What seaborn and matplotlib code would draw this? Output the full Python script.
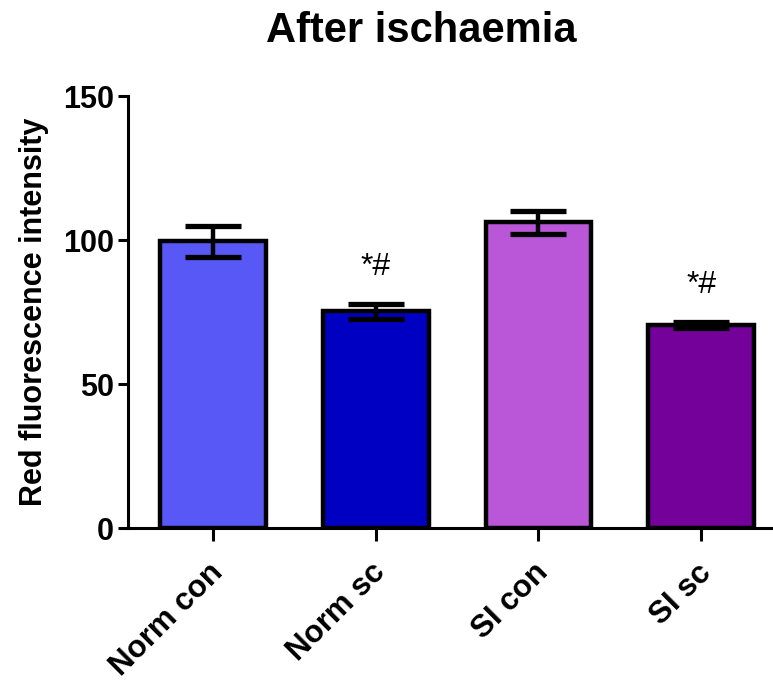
import matplotlib
matplotlib.use("Agg")
import matplotlib.pyplot as plt
import matplotlib.transforms as mtransforms
import seaborn as sns
import pandas as pd

categories = ["Norm con", "Norm sc", "SI con", "SI sc"]
means = [99.5, 75.3, 106.1, 70.5]
errors = [5.4, 2.6, 4.1, 1.2]
annotations = ["", "*#", "", "*#"]
colors = ["#5858F6", "#0000C2", "#B957D8", "#74019A"]
yticks = [0, 50, 100, 150]

sns.set_theme(style="ticks")
plt.rcParams["font.family"] = ["Liberation Sans", "DejaVu Sans"]
plt.rcParams["text.color"] = "black"
plt.rcParams["axes.labelcolor"] = "black"
plt.rcParams["xtick.color"] = "black"
plt.rcParams["ytick.color"] = "black"

df = pd.DataFrame({"group": categories, "value": means})

fig = plt.figure(figsize=(7.73, 6.82), dpi=100)
ax = fig.add_axes([0.1656, 0.2258, 0.8344, 0.6334])

sns.barplot(data=df, x="group", y="value", hue="group", palette=colors,
            order=categories, hue_order=categories, legend=False,
            errorbar=None, width=0.65, edgecolor="black", linewidth=3.2,
            saturation=1, ax=ax, zorder=2)

xs = list(range(len(categories)))
ax.errorbar(xs, means, yerr=errors, fmt="none", ecolor="black",
            elinewidth=3.2, capsize=20, capthick=3.8, zorder=3)

for x, m, e, t in zip(xs, means, errors, annotations):
    if t:
        ax.text(x, m + e + 7.5, t, ha="center", va="bottom", fontsize=23,
                color="black")

ax.set_xlim(-0.52, 3.44)
ax.set_ylim(0, 150)
ax.set_yticks(yticks)
ax.set_yticklabels([str(v) for v in yticks], fontsize=22, fontweight="bold",
                   color="black")
ax.set_xlabel("")
ax.set_ylabel("Red fluorescence intensity", fontsize=22, fontweight="bold",
              labelpad=10, color="black")

sns.despine(ax=ax)
for s in ["left", "bottom"]:
    ax.spines[s].set_linewidth(2.2)
    ax.spines[s].set_color("black")
ax.tick_params(axis="both", width=2.2, length=7, color="black", pad=3)
ax.tick_params(axis="x", length=9, pad=14)

ax.set_xticks(xs)
ax.set_xticklabels(categories, fontsize=22.5, fontweight="bold", rotation=45,
                   ha="right", va="center", rotation_mode="anchor",
                   color="black")
offset = mtransforms.ScaledTranslation(4 / 72, -6 / 72, fig.dpi_scale_trans)
for lbl in ax.get_xticklabels():
    lbl.set_transform(lbl.get_transform() + offset)

fig.text(0.545, 0.955, "After ischaemia", ha="center", va="center",
         fontsize=30, fontweight="bold", color="black")

fig.savefig("out.png", dpi=100, facecolor="white")
